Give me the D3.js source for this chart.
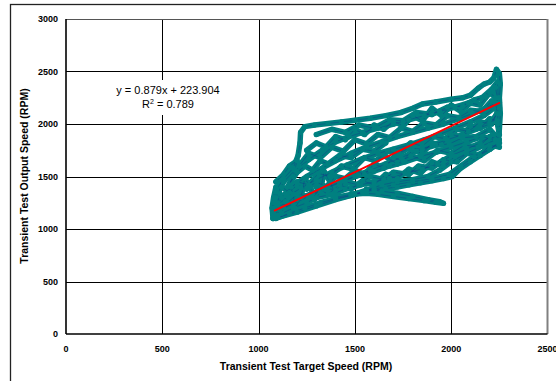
<!DOCTYPE html>
<html><head><meta charset="utf-8">
<script src="https://cdn.jsdelivr.net/npm/d3@7"></script>
<style>html,body{margin:0;padding:0;background:#fff;}svg{display:block;}text{font-family:"Liberation Sans",Arial,sans-serif;}</style>
</head><body>
<svg id="chart" width="556" height="381"></svg>
<script>
// ---- data (target speed RPM, output speed RPM) ----
const xTicks = [0, 500, 1000, 1500, 2000, 2500];
const yTicks = [0, 500, 1000, 1500, 2000, 2500, 3000];
const xTitle = "Transient Test Target Speed (RPM)";
const yTitle = "Transient Test Output Speed (RPM)";
const fitSlope = 0.879, fitIntercept = 223.904, fitR2 = 0.789;
const fitRange = [1080, 2253];

const trace1 = [[1075,1100],[1080,1250],[1095,1380],[1130,1480],[1180,1580],[1205,1700],[1215,1820],[1218,1920],[1240,1975],[1290,1990],[1360,2005],[1430,2020],[1500,2035],[1580,2055],[1660,2080],[1740,2110],[1800,2150],[1850,2190],[1920,2210],[2000,2235],[2060,2250],[2100,2275],[2140,2340],[2170,2380],[2200,2400],[2222,2440],[2235,2520],[2250,2480],[2255,2380],[2250,2250],[2255,2100],[2250,1950],[2245,1820],[2200,1760],[2120,1690],[2050,1600],[1990,1520],[1900,1480],[1800,1450],[1700,1420],[1600,1380],[1500,1330],[1400,1280],[1300,1220],[1200,1160],[1100,1110]];
const trace2 = [[1085,1180],[1120,1300],[1170,1400],[1250,1500],[1330,1580],[1400,1650],[1480,1720],[1560,1780],[1640,1830],[1720,1880],[1800,1920],[1880,1960],[1960,2000],[2040,2050],[2110,2100],[2180,2150],[2230,2200],[2240,2100],[2200,2000],[2130,1950],[2060,1900],[1980,1850],[1900,1800],[1820,1740],[1740,1680],[1660,1620],[1580,1560],[1500,1500],[1420,1440],[1340,1380],[1260,1310],[1180,1240],[1110,1180],[1080,1140]];
const trace3 = [[1090,1300],[1130,1450],[1190,1560],[1260,1660],[1330,1750],[1400,1830],[1470,1880],[1540,1920],[1620,1960],[1700,2000],[1780,2040],[1860,2080],[1940,2120],[2020,2160],[2090,2200],[2160,2250],[2210,2330],[2240,2400],[2245,2250],[2220,2150],[2170,2080],[2100,2020],[2020,1960],[1940,1900],[1860,1850],[1780,1800],[1700,1760],[1620,1720],[1540,1670],[1460,1610],[1380,1540],[1300,1470],[1220,1390],[1150,1310],[1095,1220]];
const trace4 = [[1080,1120],[1130,1200],[1200,1280],[1280,1340],[1360,1400],[1440,1460],[1520,1510],[1600,1550],[1680,1600],[1760,1640],[1840,1690],[1920,1730],[2000,1780],[2080,1830],[2160,1880],[2230,1850],[2160,1790],[2080,1720],[2000,1640],[1940,1560],[1880,1500],[1800,1470],[1720,1450],[1640,1420],[1560,1370],[1480,1320],[1400,1290],[1320,1250],[1240,1200],[1160,1150],[1090,1100]];
const trace5 = [[2250,1820],[2200,1760],[2150,1700],[2100,1640],[2050,1580],[2005,1500],[1960,1480],[1900,1460],[1840,1440],[1780,1420],[1720,1400],[1660,1385],[1600,1370],[1540,1350],[1480,1330]];
const trace6 = [[1400,1300],[1480,1330],[1560,1340],[1620,1330],[1700,1310],[1780,1290],[1860,1270],[1920,1255],[1960,1245],[1940,1260],[1880,1280],[1800,1310],[1720,1340],[1640,1360],[1560,1380]];
const trace7 = [[1075,1150],[1100,1250],[1090,1350],[1120,1400],[1160,1350],[1200,1420],[1250,1380],[1300,1450],[1350,1400],[1400,1500],[1450,1480],[1500,1560],[1550,1520],[1600,1620],[1650,1580],[1700,1680],[1750,1650],[1800,1750],[1850,1720],[1900,1820],[1950,1800],[2000,1900],[2050,1880],[2100,1980],[2150,1960],[2200,2050],[2240,2030]];
const trace8 = [[1250,1750],[1300,1820],[1350,1780],[1400,1880],[1450,1850],[1500,1950],[1550,1900],[1600,1990],[1650,1950],[1700,2030],[1750,1980],[1800,2080],[1850,2030],[1900,2150],[1950,2080],[2000,2180],[2050,2120],[2100,2200],[2150,2180],[2200,2300],[2230,2250]];
const trace9 = [[1080,1200],[1150,1250],[1200,1330],[1280,1300],[1330,1400],[1400,1370],[1450,1450],[1520,1420],[1580,1500],[1650,1470],[1700,1540],[1780,1520],[1830,1600],[1900,1580],[1960,1660],[2030,1640],[2080,1720],[2150,1700],[2200,1800],[2250,1780]];
const trace10 = [[1085,1270],[1140,1330],[1200,1450],[1260,1420],[1310,1530],[1370,1500],[1430,1600],[1490,1570],[1550,1680],[1610,1650],[1670,1740],[1730,1720],[1790,1820],[1850,1790],[1910,1880],[1970,1860],[2030,1950],[2090,1930],[2150,2020],[2210,2000],[2250,2150]];
const trace11 = [[1210,1600],[1260,1720],[1320,1680],[1380,1780],[1440,1740],[1500,1850],[1560,1810],[1620,1900],[1680,1870],[1740,1960],[1800,1930],[1860,2010],[1920,1990],[1980,2080],[2040,2060],[2100,2130],[2160,2120],[2210,2220],[2250,2200]];
const trace12 = [[1100,1130],[1180,1200],[1250,1250],[1300,1300],[1380,1330],[1450,1380],[1530,1420],[1600,1450],[1680,1480],[1760,1530],[1850,1570],[1930,1620],[2000,1700],[2080,1760],[2150,1820],[2220,1900]];
const trace13 = [[1300,1900],[1380,1950],[1450,1920],[1520,1990],[1600,1960],[1680,2040],[1750,2030],[1820,2110],[1900,2090],[1980,2160],[2060,2170],[2120,2230],[2180,2260],[2230,2350],[2245,2200],[2240,2000],[2250,1900]];
const trace14 = [[1075,1100],[1070,1200],[1078,1300],[1090,1400],[1110,1340],[1100,1230],[1120,1150],[1140,1260],[1160,1420],[1180,1330],[1190,1200],[1220,1300],[1240,1480],[1270,1400],[1290,1280],[1320,1350],[1340,1550],[1370,1450],[1400,1330]];
const trace15 = [[1650,1700],[1720,1620],[1790,1700],[1860,1650],[1930,1750],[2000,1720],[2070,1800],[2140,1780],[2200,1880],[2250,1850],[2200,1950],[2130,1880],[2060,1870],[1990,1810],[1920,1800],[1850,1760],[1780,1770],[1710,1700]];
const trace16 = [[1090,1450],[1130,1520],[1160,1600],[1200,1650],[1180,1500],[1150,1400],[1200,1540],[1240,1600],[1280,1560],[1320,1650],[1360,1620],[1420,1700],[1480,1680],[1540,1760],[1600,1740],[1660,1820]];
const trace17 = [[1300,1400],[1360,1330],[1420,1420],[1480,1380],[1540,1460],[1600,1420],[1660,1520],[1720,1480],[1780,1570],[1840,1530],[1900,1640],[1960,1600],[2020,1690]];
const traces = [trace1, trace2, trace3, trace4, trace5, trace6, trace7, trace8, trace9, trace10, trace11, trace12, trace13, trace14, trace15, trace16, trace17];

// ---- layout ----
const svg = d3.select("#chart");
const L = 66, R = 547.5, T = 19, B = 334;
const x = d3.scaleLinear().domain([0, 2500]).range([L, R]);
const y = d3.scaleLinear().domain([0, 3000]).range([B, T]);

// outer frame
svg.append("rect").attr("x", 10.5).attr("y", 4.5).attr("width", 600).attr("height", 400)
  .attr("fill", "none").attr("stroke", "#222").attr("stroke-width", 1.3);

// gridlines
const g = svg.append("g");
g.selectAll(".gx").data(xTicks.slice(1, -1)).join("line")
  .attr("x1", d => Math.round(x(d)) + 0.5).attr("x2", d => Math.round(x(d)) + 0.5)
  .attr("y1", T).attr("y2", B).attr("stroke", "#000").attr("stroke-width", 1);
g.selectAll(".gy").data(yTicks.slice(1, -1)).join("line")
  .attr("y1", d => Math.round(y(d)) + 0.5).attr("y2", d => Math.round(y(d)) + 0.5)
  .attr("x1", L).attr("x2", R).attr("stroke", "#000").attr("stroke-width", 1);
// plot border
g.append("line").attr("x1", L).attr("x2", R).attr("y1", T + 0.5).attr("y2", T + 0.5).attr("stroke", "#555").attr("stroke-width", 1.2);
g.append("line").attr("x1", R).attr("x2", R).attr("y1", T).attr("y2", B).attr("stroke", "#808080").attr("stroke-width", 2);
g.append("line").attr("x1", L).attr("x2", R).attr("y1", B).attr("y2", B).attr("stroke", "#000").attr("stroke-width", 1.6);
g.append("line").attr("x1", L).attr("x2", L).attr("y1", T).attr("y2", B).attr("stroke", "#000").attr("stroke-width", 1.6);

// tick labels
svg.selectAll(".xt").data(xTicks).join("text")
  .attr("x", d => x(d)).attr("y", 352).attr("text-anchor", "middle")
  .attr("font-size", 9).attr("font-weight", "bold").text(d => d);
svg.selectAll(".yt").data(yTicks).join("text")
  .attr("x", 58).attr("y", d => y(d) + 3).attr("text-anchor", "end")
  .attr("font-size", 9).attr("font-weight", "bold").text(d => d);

// axis titles
svg.append("text").attr("x", 306).attr("y", 370).attr("text-anchor", "middle")
  .attr("font-size", 10.5).attr("font-weight", "bold").text(xTitle);
svg.append("text").attr("transform", "translate(28,176) rotate(-90)").attr("text-anchor", "middle")
  .attr("font-size", 10.5).attr("font-weight", "bold").text(yTitle);

// equation box
svg.append("rect").attr("x", 109).attr("y", 80).attr("width", 118).attr("height", 35).attr("fill", "#fff");
svg.append("text").attr("x", 168).attr("y", 94).attr("text-anchor", "middle").attr("font-size", 11)
  .text(`y = ${fitSlope}x + ${fitIntercept}`);
const r2 = svg.append("text").attr("x", 168).attr("y", 108).attr("text-anchor", "middle").attr("font-size", 11);
r2.append("tspan").text("R");
r2.append("tspan").attr("dy", -4).attr("font-size", 7).text("2");
r2.append("tspan").attr("dy", 4).text(` = ${fitR2}`);

// data
const line = d3.line().x(d => x(d[0])).y(d => y(d[1]));
const dg = svg.append("g");
dg.selectAll(".band").data(traces).join("path")
  .attr("d", line).attr("fill", "none").attr("stroke", "#008080").attr("stroke-width", 5.5)
  .attr("stroke-linejoin", "round").attr("stroke-linecap", "round");
dg.selectAll(".thin").data(traces).join("path")
  .attr("d", line).attr("fill", "none").attr("stroke", "#1a1a8c").attr("stroke-width", 0.6).attr("opacity", 0.5);
dg.selectAll(".pt").data(traces.flat()).join("circle")
  .attr("cx", d => x(d[0])).attr("cy", d => y(d[1])).attr("r", 2.6).attr("fill", "#008080");

// fit line
svg.append("line")
  .attr("x1", x(fitRange[0])).attr("y1", y(fitSlope * fitRange[0] + fitIntercept))
  .attr("x2", x(fitRange[1])).attr("y2", y(fitSlope * fitRange[1] + fitIntercept))
  .attr("stroke", "#ff0000").attr("stroke-width", 2);
</script>
</body></html>
